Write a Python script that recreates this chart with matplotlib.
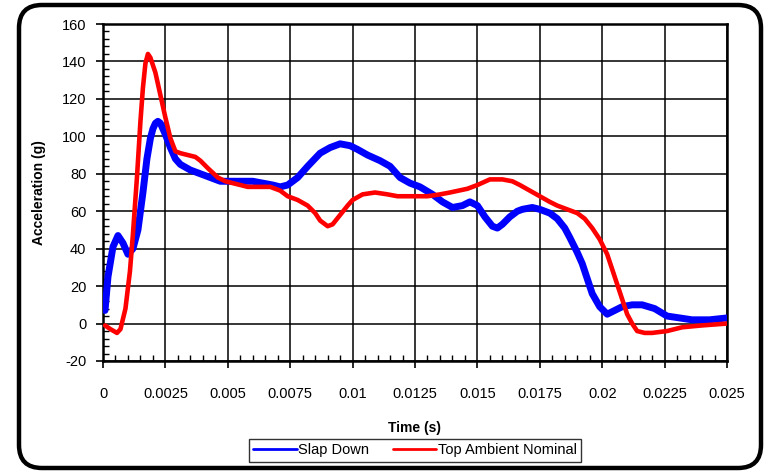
import matplotlib
matplotlib.use("Agg")
import matplotlib.pyplot as plt
from matplotlib.patches import FancyBboxPatch
from matplotlib.ticker import MultipleLocator, FixedLocator

plt.rcParams['font.family'] = ['Liberation Sans', 'DejaVu Sans']
plt.rcParams['axes.unicode_minus'] = False

# Data
slap_t = [0.00008, 0.0002, 0.0004, 0.0006, 0.0008, 0.001, 0.0012, 0.0014, 0.0016, 0.00176,
          0.0019, 0.002, 0.0021, 0.0022, 0.0023, 0.0025, 0.0027, 0.0029, 0.0031, 0.0035,
          0.0039, 0.0043, 0.0047, 0.0051, 0.0055, 0.006, 0.0064, 0.0068, 0.0071, 0.0074,
          0.0078, 0.0082, 0.0087, 0.0091, 0.0095, 0.0099, 0.0102, 0.0106, 0.0111, 0.0115,
          0.0119, 0.0123, 0.0127, 0.0132, 0.0136, 0.0140, 0.0144, 0.0147, 0.0150, 0.0153,
          0.0156, 0.0158, 0.0160, 0.0163, 0.0166, 0.0168, 0.0172, 0.0175, 0.0179, 0.0182,
          0.0185, 0.0187, 0.0190, 0.0192, 0.0194, 0.0196, 0.0199, 0.0202, 0.0205, 0.0208,
          0.0212, 0.0216, 0.0221, 0.0226, 0.0231, 0.0236, 0.0243, 0.025]
slap_v = [7, 25, 41, 47, 43, 37, 40, 50, 70, 88,
          99, 104, 107, 108, 107, 101, 94, 88, 85, 82,
          80, 78, 76, 76, 76, 76, 75, 74, 73, 74,
          78, 84, 91, 94, 96, 95, 93, 90, 87, 84,
          78, 75, 73, 69, 65, 62, 63, 65, 63, 57,
          52, 51, 53, 57, 60, 61, 62, 61, 59, 56,
          51, 46, 38, 32, 24, 16, 9, 5, 7, 9,
          10, 10, 8, 4, 3, 2, 2, 3]

top_t = [0.00008, 0.0003, 0.00056, 0.0007, 0.0009, 0.00108, 0.0012, 0.00136, 0.0015, 0.0016,
         0.0017, 0.0018, 0.0019, 0.0021, 0.0023, 0.0025, 0.0027, 0.0029, 0.0031, 0.0034,
         0.0037, 0.0039, 0.0042, 0.0046, 0.0049, 0.0052, 0.0058, 0.0063, 0.0067, 0.0071,
         0.0074, 0.0078, 0.0082, 0.0085, 0.0087, 0.0090, 0.0092, 0.0095, 0.0098, 0.0100,
         0.0104, 0.0109, 0.0114, 0.0118, 0.0124, 0.0130, 0.0135, 0.0139, 0.0146, 0.0150,
         0.0155, 0.0160, 0.0164, 0.0167, 0.0171, 0.0175, 0.0179, 0.0182, 0.0186, 0.0190,
         0.0193, 0.0196, 0.0199, 0.0202, 0.0204, 0.0206, 0.0208, 0.0210, 0.0212, 0.0214,
         0.0217, 0.0220, 0.0226, 0.0232, 0.0240, 0.025]
top_v = [-1, -3, -5, -3, 8, 28, 48, 78, 108, 126,
         139, 144, 142, 134, 122, 110, 99, 92, 91, 90,
         89, 87, 83, 78, 76, 75, 73, 73, 73, 71,
         68, 66, 63, 59, 55, 52, 53, 58, 63, 66,
         69, 70, 69, 68, 68, 68, 69, 70, 72, 74,
         77, 77, 76, 74, 71, 68, 65, 63, 61, 59,
         56, 51, 45, 37, 29, 21, 13, 5, 0, -4,
         -5, -5, -4, -2, -1, 0]

x_ticks = [0, 0.0025, 0.005, 0.0075, 0.01, 0.0125, 0.015, 0.0175, 0.02, 0.0225, 0.025]
x_labels = ['0', '0.0025', '0.005', '0.0075', '0.01', '0.0125', '0.015', '0.0175', '0.02', '0.0225', '0.025']

W, H = 766, 472
fig = plt.figure(figsize=(W / 100, H / 100), dpi=100)

# rounded outer frame
frame = FancyBboxPatch((19 / W, 4 / H), (761 - 19) / W, (467 - 4) / H,
                       boxstyle="round,pad=0,rounding_size=0.03",
                       transform=fig.transFigure, fill=False, edgecolor='black',
                       linewidth=3.2, zorder=0, mutation_aspect=W / H)
fig.patches.append(frame)

ax = fig.add_axes([103 / W, (H - 361) / H, (727 - 103) / W, (361 - 24) / H])

ax.plot(slap_t, slap_v, color='#0000FF', lw=5.0, solid_joinstyle='round',
        solid_capstyle='round', label='Slap Down', zorder=3)
ax.plot(top_t, top_v, color='#FF0000', lw=3.3, solid_joinstyle='round',
        solid_capstyle='round', label='Top Ambient Nominal', zorder=4)

ax.set_xlim(0, 0.025)
ax.set_ylim(-20, 160)
ax.xaxis.set_major_locator(FixedLocator(x_ticks))
ax.set_xticklabels(x_labels)
ax.xaxis.set_minor_locator(MultipleLocator(0.0005))
ax.yaxis.set_major_locator(MultipleLocator(20))
ax.yaxis.set_minor_locator(MultipleLocator(4))

ax.grid(True, which='major', color='black', linewidth=1.1)
ax.set_axisbelow(True)
for s in ax.spines.values():
    s.set_linewidth(1.8)

ax.tick_params(axis='both', which='major', direction='out', length=5, width=1.2,
               labelsize=10.5)
ax.tick_params(axis='both', which='minor', direction='in', length=4, width=1.0)
ax.tick_params(axis='x', which='major', pad=14)
ax.tick_params(axis='y', which='major', pad=7)

ax.set_xlabel('Time (s)', fontsize=10, fontweight='bold', labelpad=14)
ax.set_ylabel('Acceleration (g)', fontsize=10, fontweight='bold', labelpad=11)

leg = ax.legend(loc='upper center', bbox_to_anchor=(0.5, -0.21), ncol=2,
                frameon=True, fancybox=False, edgecolor='black', fontsize=10.5,
                handlelength=3.0, handletextpad=0.1, columnspacing=1.6,
                borderpad=0.3)
leg.get_frame().set_linewidth(1.0)
for line in leg.get_lines():
    line.set_linewidth(2.0)

fig.savefig('out.png', dpi=100)
